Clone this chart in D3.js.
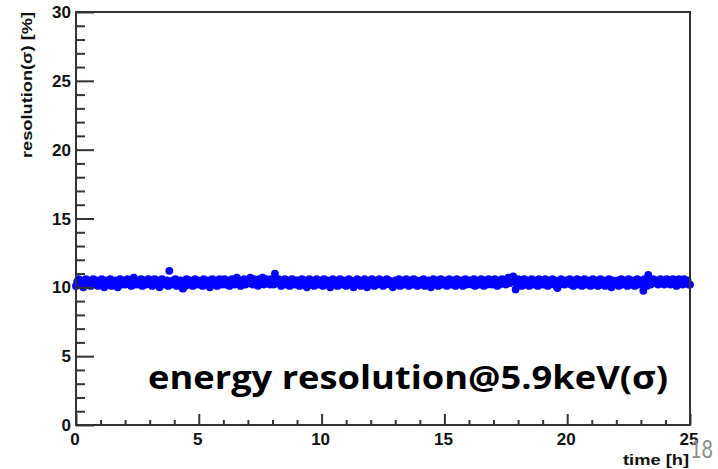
<!DOCTYPE html>
<html>
<head>
<meta charset="utf-8">
<script src="https://cdn.jsdelivr.net/npm/d3@7"></script>
<style>
  body { margin: 0; background: #fff; }
  svg { display: block; }
</style>
</head>
<body>
<svg id="chart" width="718" height="469"></svg>
<script>
// ---- data ----
const sampleStartHours = 0;
const sampleStepHours = 0.05;
const resolutionValues = [
  10.1,10.4,10.6,10.2,10.5,10.3,10.0,10.4,10.6,10.2,10.5,10.3,10.1,10.4,10.6,10.2,10.3,10.5,10.1,10.4,
  10.3,10.6,10.2,10.0,10.4,10.5,10.2,10.3,10.6,10.1,10.4,10.2,10.5,10.3,10.0,10.4,10.6,10.2,10.3,10.5,
  10.2,10.4,10.6,10.3,10.5,10.1,10.4,10.7,10.2,10.3,10.5,10.2,10.4,10.6,10.1,10.3,10.5,10.2,10.4,10.6,
  10.3,10.5,10.1,10.4,10.6,10.2,10.3,10.5,10.0,10.4,10.6,10.2,10.4,10.3,10.5,10.1,11.2,10.4,10.2,10.5,
  10.3,10.6,10.1,10.4,10.2,10.5,10.3,9.9,10.4,10.1,10.6,10.3,10.2,10.5,10.4,10.1,10.3,10.6,10.2,10.4,
  10.5,10.2,10.4,10.1,10.6,10.3,10.2,10.5,10.4,10.0,10.3,10.6,10.2,10.4,10.5,10.1,10.3,10.6,10.4,10.2,
  10.4,10.6,10.2,10.5,10.3,10.1,10.4,10.6,10.3,10.2,10.5,10.7,10.3,10.4,10.1,10.5,10.3,10.6,10.2,10.4,
  10.5,10.3,10.7,10.4,10.2,10.6,10.4,10.5,10.1,10.6,10.3,10.5,10.7,10.2,10.4,10.6,10.3,10.5,10.2,10.6,
  10.4,10.2,11.0,10.5,10.3,10.6,10.4,10.1,10.5,10.3,10.6,10.2,10.4,10.5,10.1,10.3,10.6,10.4,10.2,10.5,
  10.3,10.5,10.1,10.4,10.6,10.2,10.3,10.5,10.0,10.4,10.6,10.2,10.5,10.3,10.1,10.4,10.6,10.3,10.2,10.5,
  10.4,10.1,10.6,10.3,10.2,10.5,10.4,10.0,10.3,10.6,10.2,10.4,10.5,10.1,10.3,10.6,10.2,10.4,10.5,10.3,
  10.1,10.4,10.6,10.2,10.5,10.3,10.0,10.4,10.2,10.6,10.3,10.5,10.1,10.4,10.2,10.6,10.3,10.0,10.5,10.2,
  10.4,10.6,10.3,10.1,10.5,10.2,10.4,10.6,10.3,10.5,10.1,10.4,10.2,10.6,10.3,10.5,10.2,10.4,10.0,10.3,
  10.5,10.2,10.4,10.6,10.1,10.3,10.5,10.2,10.4,10.6,10.3,10.1,10.5,10.4,10.2,10.6,10.3,10.5,10.1,10.4,
  10.2,10.5,10.3,10.6,10.1,10.4,10.2,10.5,10.3,10.0,10.4,10.6,10.2,10.3,10.5,10.1,10.4,10.6,10.2,10.3,
  10.5,10.3,10.1,10.4,10.6,10.2,10.5,10.3,10.4,10.1,10.6,10.2,10.4,10.5,10.3,10.1,10.4,10.6,10.2,10.5,
  10.3,10.5,10.2,10.4,10.6,10.1,10.3,10.5,10.2,10.4,10.6,10.3,10.1,10.5,10.4,10.2,10.6,10.3,10.5,10.2,
  10.4,10.6,10.3,10.1,10.5,10.2,10.4,10.6,10.3,10.5,10.2,10.4,10.7,10.3,10.6,10.5,10.8,10.4,9.85,10.3,
  10.6,10.3,10.5,10.1,10.4,10.6,10.2,10.5,10.3,10.1,10.4,10.6,10.2,10.5,10.3,10.4,10.1,10.6,10.3,10.5,
  10.2,10.4,10.6,10.3,10.1,10.5,10.2,10.4,10.6,10.3,10.5,10.1,9.95,10.4,10.2,10.6,10.3,10.5,10.2,10.4,
  10.5,10.3,10.6,10.2,10.4,10.1,10.5,10.3,10.6,10.2,10.4,10.5,10.1,10.3,10.6,10.4,10.2,10.5,10.3,10.1,
  10.4,10.6,10.2,10.5,10.3,10.1,10.4,10.6,10.2,10.3,10.5,10.1,10.4,10.2,10.6,10.3,10.0,10.5,10.2,10.4,
  10.3,10.5,10.1,10.4,10.6,10.2,10.3,10.5,10.4,10.1,10.6,10.3,10.2,10.5,10.4,10.1,10.3,10.6,10.2,10.4,
  10.5,10.2,9.75,10.6,10.3,10.1,10.9,10.4,10.2,10.5,10.6,10.3,10.4,10.5,10.2,10.4,10.6,10.3,10.5,10.2,
  10.4,10.6,10.3,10.5,10.2,10.4,10.6,10.3,10.5,10.1,10.4,10.6,10.3,10.5,10.2,10.6,10.4,10.3,10.5,10.2,
  10.2
];
const xMajorTicks = [0, 5, 10, 15, 20, 25];
const xMinorTicks = [1,2,3,4,6,7,8,9,11,12,13,14,16,17,18,19,21,22,23,24];
const yMajorTicks = [0, 5, 10, 15, 20, 25, 30];
const yMinorTicks = [1,2,3,4,6,7,8,9,11,12,13,14,16,17,18,19,21,22,23,24,26,27,28,29];
const xTitle = "time [h]";
const yTitle = "resolution(\u03c3) [%]";
const annotation = "energy resolution@5.9keV(\u03c3)";
const pageNumber = "18";

// ---- chart ----
const svg = d3.select("#chart");
const x = d3.scaleLinear().domain([0, 25]).range([76, 690]);
const y = d3.scaleLinear().domain([0, 30]).range([425, 12]);
const axisColor = "#333";
const tickFont = "'Liberation Sans', Arial, sans-serif";

const points = resolutionValues.map((v, i) => ({ t: sampleStartHours + i * sampleStepHours, v }));

// data markers
svg.append("g").selectAll("circle").data(points).join("circle")
  .attr("cx", d => x(d.t))
  .attr("cy", d => y(d.v))
  .attr("r", 3.9)
  .attr("fill", "#0000ff");

// frame
svg.append("rect")
  .attr("x", x(0)).attr("y", y(30))
  .attr("width", x(25) - x(0)).attr("height", y(0) - y(30))
  .attr("fill", "none").attr("stroke", axisColor).attr("stroke-width", 2);

// y axis ticks
const yAxisMajor = d3.axisRight(y).tickValues(yMajorTicks).tickSize(18).tickFormat("");
const yAxisMinor = d3.axisRight(y).tickValues(yMinorTicks).tickSize(9).tickFormat("");
[yAxisMajor, yAxisMinor].forEach(ax => {
  const g = svg.append("g").attr("transform", `translate(${x(0)},0)`).call(ax);
  g.select(".domain").remove();
  g.selectAll("line").attr("stroke", axisColor).attr("stroke-width", 2);
});
// x axis ticks
const xAxisMajor = d3.axisTop(x).tickValues(xMajorTicks).tickSize(11).tickFormat("");
const xAxisMinor = d3.axisTop(x).tickValues(xMinorTicks).tickSize(5).tickFormat("");
[xAxisMajor, xAxisMinor].forEach(ax => {
  const g = svg.append("g").attr("transform", `translate(0,${y(0)})`).call(ax);
  g.select(".domain").remove();
  g.selectAll("line").attr("stroke", axisColor).attr("stroke-width", 2);
});

// y tick labels
svg.append("g").selectAll("text").data(yMajorTicks).join("text")
  .attr("x", 71).attr("y", d => y(d) + 6)
  .attr("text-anchor", "end")
  .attr("font-family", tickFont).attr("font-weight", "bold").attr("font-size", 17)
  .attr("fill", "#111")
  .text(d => d);

// x tick labels
svg.append("g").selectAll("text").data(xMajorTicks).join("text")
  .attr("x", d => x(d) - 1).attr("y", 445)
  .attr("text-anchor", "middle")
  .attr("font-family", tickFont).attr("font-weight", "bold").attr("font-size", 17)
  .attr("fill", "#111")
  .text(d => d);

// axis titles
svg.append("text")
  .attr("transform", `translate(32,12) rotate(-90)`)
  .attr("text-anchor", "end")
  .attr("font-family", tickFont).attr("font-weight", "bold").attr("font-size", 15)
  .attr("textLength", 146).attr("lengthAdjust", "spacingAndGlyphs")
  .attr("fill", "#111")
  .text(yTitle);

svg.append("text")
  .attr("x", 689).attr("y", 465)
  .attr("text-anchor", "end")
  .attr("font-family", tickFont).attr("font-weight", "bold").attr("font-size", 15)
  .attr("textLength", 66).attr("lengthAdjust", "spacingAndGlyphs")
  .attr("fill", "#111")
  .text(xTitle);

// annotation
svg.append("text")
  .attr("x", 148).attr("y", 389)
  .attr("font-family", "'Open Sans', Lato, sans-serif").attr("font-weight", "bold").attr("font-size", 33)
  .attr("textLength", 520).attr("lengthAdjust", "spacingAndGlyphs")
  .attr("fill", "#000")
  .text(annotation);

// page number
svg.append("text")
  .attr("x", 690).attr("y", 458)
  .attr("font-family", "Lato, 'Open Sans', sans-serif").attr("font-size", 25)
  .attr("textLength", 23).attr("lengthAdjust", "spacingAndGlyphs")
  .attr("fill", "#8c8c8c")
  .text(pageNumber);
</script>
</body>
</html>
